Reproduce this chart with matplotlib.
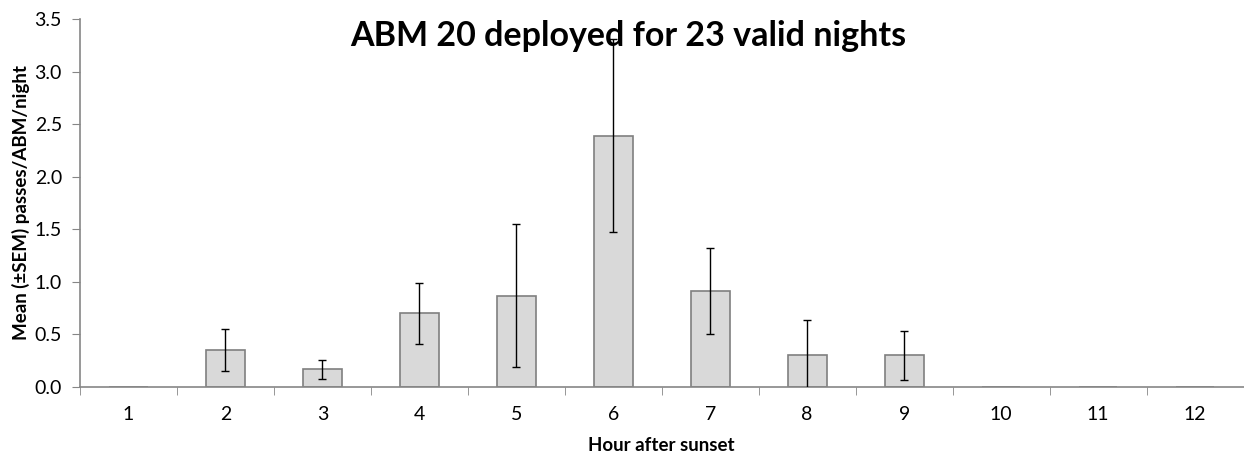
import matplotlib.pyplot as plt
import numpy as np
from matplotlib.ticker import FixedLocator, MultipleLocator

plt.rcParams['font.family'] = ['Lato', 'DejaVu Sans']

hours = ['1', '2', '3', '4', '5', '6', '7', '8', '9', '10', '11', '12']
mean_passes = [0.0, 0.35, 0.17, 0.70, 0.87, 2.39, 0.91, 0.30, 0.30, 0.0, 0.0, 0.0]
sem_passes = [0.0, 0.20, 0.09, 0.29, 0.68, 0.92, 0.41, 0.34, 0.23, 0.0, 0.0, 0.0]

axis_grey = '#868686'

fig = plt.figure(figsize=(12.44, 4.54), dpi=100)
ax = fig.add_axes([80 / 1244, 1 - 387 / 454, 1163.5 / 1244, 368 / 454])

x = np.arange(len(hours))
ax.bar(x, mean_passes, width=0.4, color='#d9d9d9', edgecolor='#7f7f7f',
       linewidth=1.2, zorder=2)

# error bars only where there is a spread
m = np.array(sem_passes) > 0
ax.errorbar(x[m], np.array(mean_passes)[m], yerr=np.array(sem_passes)[m],
            fmt='none', ecolor='black', elinewidth=1, capsize=3, capthick=1,
            zorder=3)

ax.set_xlim(-0.5, len(hours) - 0.5)
ax.set_ylim(0, 3.5)
ax.yaxis.set_major_locator(MultipleLocator(0.5))
ax.yaxis.set_major_formatter(lambda v, p: f'{v:.1f}')

ax.set_xticks(x)
ax.set_xticklabels(hours)
ax.xaxis.set_minor_locator(FixedLocator(np.arange(-0.5, len(hours), 1)))
ax.tick_params(axis='x', which='major', length=0, pad=14, labelsize=14)
ax.tick_params(axis='x', which='minor', length=6, color=axis_grey, direction='out')
ax.tick_params(axis='y', length=6, color=axis_grey, direction='out', pad=7,
               labelsize=14)

for side in ['top', 'right']:
    ax.spines[side].set_visible(False)
for side in ['left', 'bottom']:
    ax.spines[side].set_color(axis_grey)
    ax.spines[side].set_linewidth(1.2)

ax.set_xlabel('Hour after sunset', fontsize=13.5, fontweight='bold', labelpad=10)
ax.set_ylabel('Mean (\u00b1SEM) passes/ABM/night', fontsize=13.5,
              fontweight='bold', labelpad=3)

fig.text(628 / 1244, 1 - 36 / 454, 'ABM 20 deployed for 23 valid nights',
         ha='center', va='center', fontsize=24.5, fontweight='bold', zorder=5)

fig.savefig('out.png', dpi=100)
